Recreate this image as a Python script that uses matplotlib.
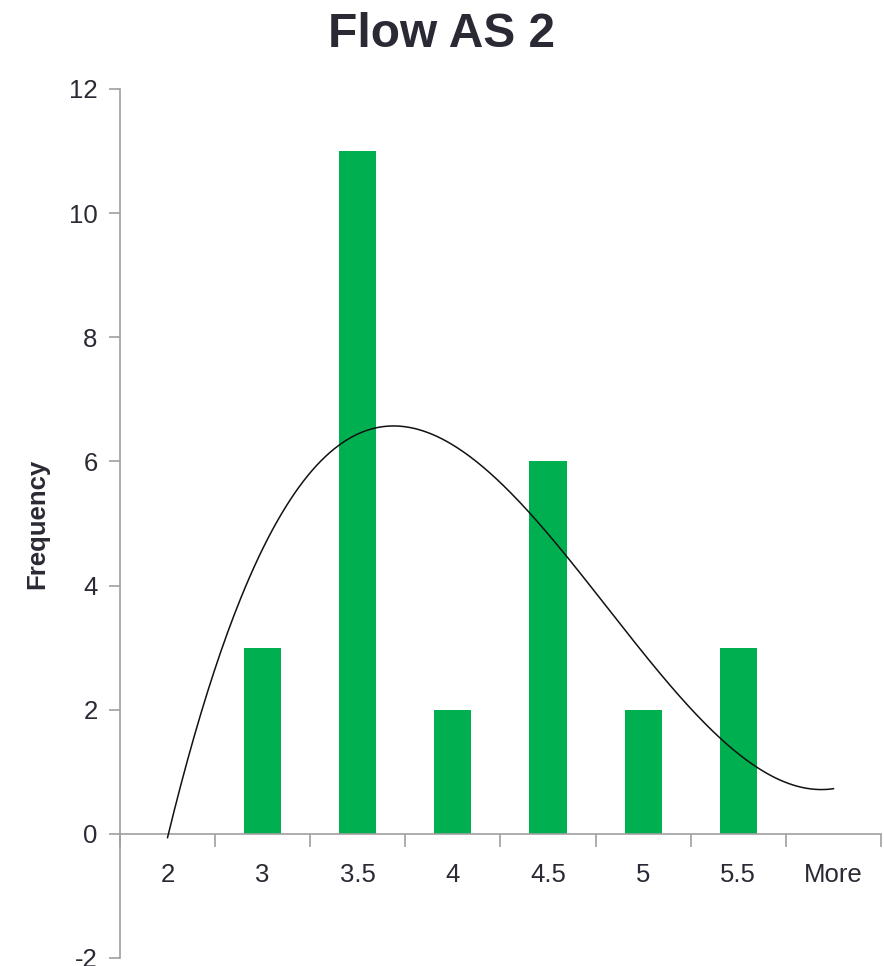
import numpy as np
import matplotlib.pyplot as plt

plt.rcParams['font.family'] = ['Liberation Sans', 'DejaVu Sans']
plt.rcParams['axes.unicode_minus'] = False

bins = ['2', '3', '3.5', '4', '4.5', '5', '5.5', 'More']
frequency = [0, 3, 11, 2, 6, 2, 3, 0]

# cubic trendline through the bar heights (Excel-style, x = 1..n)
xi = np.arange(1, len(bins) + 1)
coef = np.polyfit(xi, frequency, 3)
xs = np.linspace(1, len(bins), 300)
ys = np.polyval(coef, xs)

fig = plt.figure(figsize=(8.84, 9.66), dpi=100)
ax = fig.add_axes([0.1357, 0.0083, 0.8609, 0.8996])

pos = np.arange(len(bins))
ax.bar(pos, frequency, width=0.39, color='#00B050', zorder=2)
ax.plot(xs - 1, ys, color='#111111', lw=1.1, zorder=3)

ax.set_xlim(-0.5, len(bins) - 0.5)
ax.set_ylim(-2, 12)
ax.set_yticks(range(-2, 13, 2))

ax.spines['top'].set_visible(False)
ax.spines['right'].set_visible(False)
ax.spines['bottom'].set_position(('data', 0))
for s in ['left', 'bottom']:
    ax.spines[s].set_color('#a0a0a0')
    ax.spines[s].set_linewidth(1.2)

ax.set_xticks(pos)
ax.set_xticklabels(bins)
ax.set_xticks(np.arange(-0.5, len(bins)), minor=True)
ax.tick_params(axis='x', which='major', length=0, pad=21, labelsize=18.5, labelcolor='#2a2a35')
ax.tick_params(axis='x', which='minor', length=9, width=1.2, color='#a0a0a0', direction='out')
ax.tick_params(axis='y', length=8, width=1.2, color='#a0a0a0', labelsize=18.5, labelcolor='#2a2a35', pad=8)

ax.set_ylabel('Frequency', fontsize=18.5, fontweight='bold', color='#2a2a35', labelpad=14)
fig.suptitle('Flow AS 2', fontsize=34.5, fontweight='bold', color='#2a2a35', y=0.988)

fig.savefig('out.png', dpi=100)
